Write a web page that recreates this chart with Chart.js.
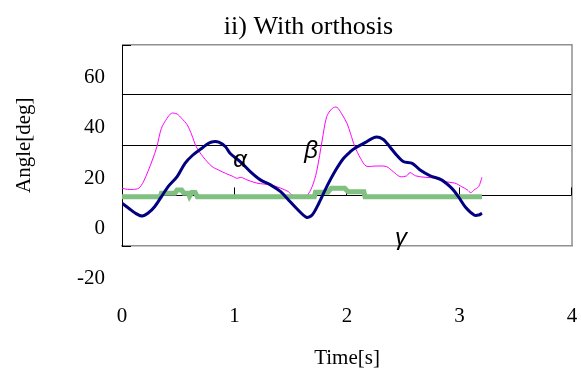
<!DOCTYPE html>
<html>
<head>
<meta charset="utf-8">
<script src="https://cdn.jsdelivr.net/npm/chart.js@4/dist/chart.umd.min.js"></script>
<style>
body{margin:0;background:#fff;}
</style>
</head>
<body>
<canvas id="grafico" width="581" height="369"></canvas>
<script>
// Tiempo [s] y ángulo [deg] de cada curva
const alfaT=[0,0.06,0.12,0.18,0.23,0.29,0.35,0.41,0.49,0.56,0.63,0.71,0.77,0.81,0.86,0.92,0.96,1.05,1.14,1.23,1.32,1.41,1.48,1.55,1.64,1.69,1.75,1.82,1.90,1.97,2.03,2.07,2.16,2.25,2.32,2.38,2.44,2.50,2.58,2.65,2.74,2.84,2.93,2.99,3.05,3.13,3.17,3.20];
const alfaV=[-3.1,-5.1,-7.1,-8.2,-7.1,-4.5,-0.5,3.5,7.5,12.8,16.1,18.8,20.8,21.4,21.2,19.4,16.8,13.5,9.5,6.2,4.2,1.5,-1.8,-5.1,-8.7,-7.8,-3.1,3.5,10.1,14.8,17.4,18.8,21.0,23.2,22.4,19.4,16.1,13.5,12.8,10.1,7.8,6.2,2.9,-0.5,-4.5,-7.8,-7.8,-7.1];
const betaT=[0,0.05,0.10,0.15,0.19,0.23,0.27,0.31,0.35,0.40,0.44,0.49,0.53,0.58,0.62,0.66,0.72,0.80,0.86,0.92,0.99,1.02,1.06,1.11,1.20,1.32,1.41,1.48,1.51,1.58,1.64,1.69,1.73,1.78,1.82,1.87,1.91,1.95,2.00,2.03,2.07,2.12,2.17,2.25,2.35,2.41,2.47,2.53,2.56,2.61,2.70,2.80,2.87,2.96,3.02,3.07,3.10,3.13,3.17,3.20];
const betaV=[2.9,2.4,2.4,2.9,5.4,9.5,14.1,19.4,26.7,30.7,32.7,32.4,30.7,28.1,24.1,19.4,15.4,11.5,10.1,8.8,7.5,6.8,7.2,6.2,4.9,4.2,2.9,1.5,0.2,-0.2,-0.2,3.5,9.5,22.1,31.4,34.7,35.1,32.7,28.7,24.8,19.4,14.8,11.7,11.7,11.5,9.5,7.5,7.8,9.1,7.8,7.2,6.8,5.5,4.9,3.5,2.2,1.1,2.2,3.5,7.2];
const gammaT=[0,0.34,0.35,0.47,0.49,0.53,0.55,0.59,0.60,0.62,0.65,0.67,1.71,1.72,1.83,1.86,1.98,2.01,2.15,2.16,3.20];
const gammaV=[-0.5,-0.5,0.9,0.9,2.2,2.2,0.9,0.9,-0.3,1.2,1.2,-0.5,-0.5,1.3,1.3,2.9,2.9,1.5,1.5,-0.5,-0.5];
// Ejes
const ticksX=[0,1,2,3,4];
const ticksY=[60,40,20,0,-20];
// Letras sobre las curvas
const letras=["α","β","γ"];
const letrasT=[1.05,1.68,2.48];
const letrasV=[14.1,17.5,-17.1];
const titulo="ii) With orthosis";

const puntos=(t,v)=>t.map((x,i)=>({x,y:v[i]}));
const serif="'Liberation Serif','Times New Roman',serif";

const extras={
  id:"extras",
  beforeDatasetsDraw(chart){
    const {ctx,chartArea:a,scales:{x,y}}=chart;
    ctx.save();
    ctx.strokeStyle="#909090";ctx.lineWidth=1.5;
    ctx.beginPath();ctx.moveTo(a.left,a.top);ctx.lineTo(a.right,a.top);ctx.lineTo(a.right,a.bottom);ctx.stroke();
    ctx.strokeStyle="#000";ctx.lineWidth=1;
    const y0=y.getPixelForValue(0);
    ticksX.slice(1).forEach(v=>{
      const px=Math.round(x.getPixelForValue(v))-0.5;
      ctx.beginPath();ctx.moveTo(px,y0);ctx.lineTo(px,y0-8);ctx.stroke();
    });
    [ticksY[0],ticksY[ticksY.length-1]].forEach(v=>{
      const py=Math.round(y.getPixelForValue(v))+0.5;
      ctx.beginPath();ctx.moveTo(a.left,py);ctx.lineTo(a.left+9,py);ctx.stroke();
    });
    ctx.restore();
  },
  afterDatasetsDraw(chart){
    const {ctx,scales:{x,y}}=chart;
    ctx.save();
    ctx.fillStyle="#000";
    ctx.font="italic 24px 'Liberation Sans',Arial,sans-serif";
    ctx.textAlign="center";ctx.textBaseline="middle";
    letras.forEach((l,i)=>ctx.fillText(l,x.getPixelForValue(letrasT[i]),y.getPixelForValue(letrasV[i])));
    // título
    ctx.font="26px "+serif;
    ctx.fillText(titulo,chart.width/2+18,27);
    ctx.restore();
  }
};

new Chart(document.getElementById("grafico"),{
  type:"scatter",
  data:{
    datasets:[
      {label:"alpha",data:puntos(alfaT,alfaV),showLine:true,borderColor:"#000080",borderWidth:3,pointRadius:0,tension:0.3,order:1},
      {label:"gamma",data:puntos(gammaT,gammaV),showLine:true,borderColor:"#80c080",borderWidth:5,pointRadius:0,tension:0,order:2},
      {label:"beta",data:puntos(betaT,betaV),showLine:true,borderColor:"#ff00ff",borderWidth:1,pointRadius:0,tension:0.3,order:3}
    ]
  },
  options:{
    responsive:false,
    animation:false,
    layout:{padding:{left:0,right:9,top:44.7,bottom:0}},
    plugins:{
      legend:{display:false},
      tooltip:{enabled:false},
      title:{display:false}
    },
    scales:{
      x:{
        type:"linear",min:ticksX[0],max:ticksX[ticksX.length-1],
        afterBuildTicks:s=>{s.ticks=ticksX.map(value=>({value}));},
        afterFit:s=>{s.height=123.3;},
        grid:{display:true,drawOnChartArea:false,drawTicks:true,tickLength:58,color:"rgba(0,0,0,0)"},
        border:{color:"#909090",width:1.5},
        ticks:{color:"#000",padding:0,font:{family:serif,size:21},maxRotation:0},
        title:{display:true,text:"Time[s]",color:"#000",font:{family:serif,size:21},padding:{top:0,bottom:-2}}
      },
      y:{
        min:ticksY[ticksY.length-1],max:ticksY[0],
        afterBuildTicks:s=>{s.ticks=ticksY.slice().reverse().map(value=>({value}));},
        afterFit:s=>{s.width=122;},
        grid:{color:c=>(c.tick&&(c.tick.value===ticksY[0]||c.tick.value===ticksY[ticksY.length-1]))?"#909090":"#000",lineWidth:1,drawTicks:false},
        border:{color:"#000",width:1},
        ticks:{color:"#000",padding:17,labelOffset:33,font:{family:serif,size:21}},
        title:{display:true,text:"Angle[deg]",color:"#000",font:{family:serif,size:21},padding:{top:12,bottom:0}}
      }
    }
  },
  plugins:[extras]
});
</script>
</body>
</html>
